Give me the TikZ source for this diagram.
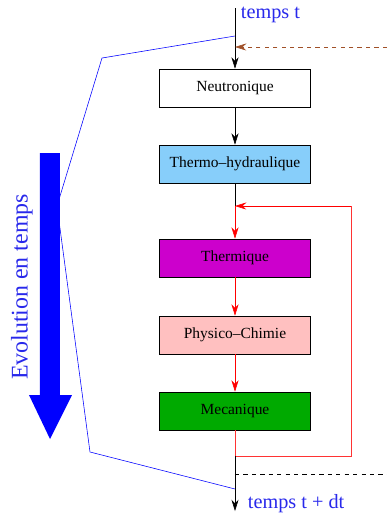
\documentclass[tikz,border=0pt]{standalone}
\usepackage{fontspec}
\setmainfont{Liberation Serif}
\usepackage{tikz}
\usetikzlibrary{arrows.meta}

\definecolor{ciel}{RGB}{135,206,250}
\definecolor{violet}{RGB}{204,0,204}
\definecolor{rose}{RGB}{255,192,192}
\definecolor{vert}{RGB}{0,170,0}
\definecolor{brun}{RGB}{160,80,40}
\definecolor{bleu}{RGB}{40,40,235}

\begin{document}
\begin{tikzpicture}[x=0.025cm,y=-0.025cm,
    bloc/.style={draw,minimum width=3.775cm,minimum height=0.95cm,font=\fontsize{11}{13}\selectfont},
    fleche/.style={-{Stealth[length=8pt,width=5pt,inset=2.5pt]}},
    etiq/.style={anchor=west,bleu,font=\Large}]
    \useasboundingbox (0,0) rectangle (387,516);

    % boites
    \node[bloc,fill=white]  (neutro)  at (235,88)  {Neutronique};
    \node[bloc,fill=ciel]   (thermoh) at (235,164) {Thermo--hydraulique};
    \node[bloc,fill=violet] (thermi)  at (235,258) {Thermique};
    \node[bloc,fill=rose]   (physico) at (235,335) {Physico--Chimie};
    \node[bloc,fill=vert]   (meca)    at (235,411) {Mecanique};

    \coordinate (haut) at (235,8);
    \coordinate (entree) at (387,47);
    \coordinate (boucle) at (235,206);
    \coordinate (retour) at (351,206);
    \coordinate (coin) at (351,456);
    \coordinate (sortie) at (235,456);
    \coordinate (fin) at (235,511);
    \coordinate (pointilles) at (387,474);

    \node[etiq] (debut) at (236,15) {temps t};
    \node[etiq] (finlab) at (243,504) {temps t + dt};

    % axe du temps
    \draw[fleche] (haut) -- (neutro);
    \draw[fleche,dashed,brun] (entree) -- (haut |- entree);
    \draw[fleche] (neutro) -- (thermoh);
    \draw (thermoh) -- (boucle);
    \draw[fleche,red] (boucle) -- (thermi);
    \draw[fleche,red] (thermi) -- (physico);
    \draw[fleche,red] (physico) -- (meca);
    \draw[red!80] (meca) -- (sortie) -- (coin) -- (retour);
    \draw[fleche,red] (retour) -- (boucle);
    \draw[fleche] (sortie) -- (fin);
    \draw[dashed] (sortie |- pointilles) -- (pointilles);

    % evolution
    \draw[blue] (235,36) -- (102,58) -- (57,206) -- (90,452) -- (235,489);
    \fill[blue] (40,153) -- (60,153) -- (60,395) -- (72,395) -- (50,439)
        -- (29,395) -- (40,395) -- cycle;
    \node[rotate=90,bleu,font=\fontsize{17}{20}\selectfont] (evol) at (22,287) {Evolution en temps};
\end{tikzpicture}
\end{document}
